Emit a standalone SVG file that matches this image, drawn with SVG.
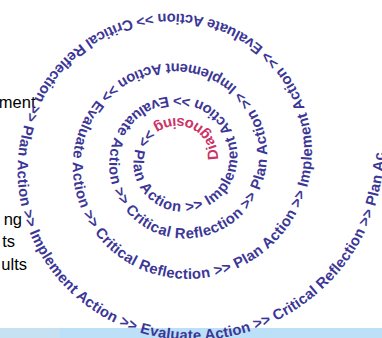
<svg xmlns="http://www.w3.org/2000/svg" width="382" height="338" viewBox="0 0 382 338">
<style>
.sp{font-family:"Liberation Sans",Arial,sans-serif;font-weight:bold;font-size:14.8px;fill:#3C3796;dominant-baseline:central}
.pk{fill:#CC3366}
.bt{font-family:"Liberation Sans",Arial,sans-serif;font-size:16.5px;fill:#000000;text-anchor:end}
</style>
<defs>
<path id="spiral" fill="none" d="M212.8 160 C214.187 141.885 200.411 124.582 180 123.044 C159.589 121.506 140.142 137.044 138.436 160 C136.730 182.956 154.221 204.784 180 206.676 C205.779 208.568 230.247 188.910 232.345 160 C234.443 131.090 212.382 103.695 180 101.368 C147.618 99.041 116.976 123.766 114.395 160 C111.814 196.234 139.495 230.477 180 233.339 C220.505 236.201 258.741 205.242 261.916 160 C265.091 114.758 230.496 72.092 180 68.571 C129.504 65.050 81.926 103.677 78.021 160 C74.116 216.323 117.214 269.349 180 273.680 C242.786 278.011 301.854 229.953 306.657 160 C311.460 90.047 257.902 24.277 180 18.950 C102.098 13.623 28.895 73.282 22.987 160 C17.079 246.718 83.504 328.164 180 334.717 C276.496 341.270 371.270 269.740 378.700 160 C386.130 50.260 299.367 -48.067 180 -56.127"/>
</defs>
<g id="footer-bar">
<rect x="0" y="328" width="382" height="10" fill="#BCE0F7"/>
<rect x="0" y="328" width="60" height="10" fill="#C6E1F1"/>
</g>
<g id="background-text">
<text class="bt" x="35.5" y="108">ment</text>
<text class="bt" x="22" y="225">ng</text>
<text class="bt" x="15" y="247">ts</text>
<text class="bt" x="27" y="270">ults</text>
</g>
<g id="spiral-text">
<text class="sp"><textPath href="#spiral"><tspan class="pk">Diagnosing</tspan> &gt;&gt; Plan Action &gt;&gt; Implement Action &gt;&gt; Evaluate Action &gt;&gt; Critical Reflection &gt;&gt; Plan Action &gt;&gt; Implement Action &gt;&gt; Evaluate Action &gt;&gt; Critical Reflection &gt;&gt; Plan Action &gt;&gt; Implement Action &gt;&gt; Evaluate Action &gt;&gt; Critical Reflection &gt;&gt; Plan Action &gt;&gt; Implement Action &gt;&gt; Evaluate Action &gt;&gt; Critical Reflection &gt;&gt; Plan Ac</textPath></text>
</g>
</svg>
